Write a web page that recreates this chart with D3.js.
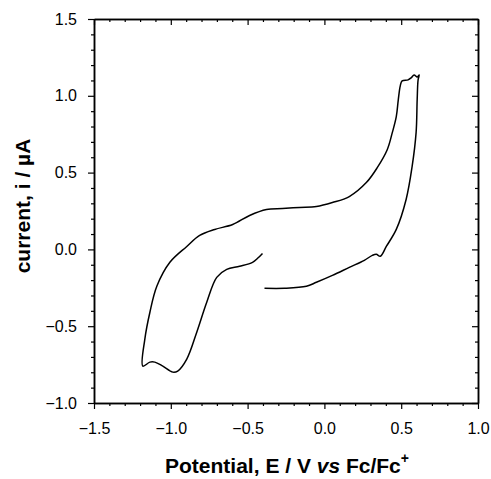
<!DOCTYPE html>
<html>
<head>
<meta charset="utf-8">
<script src="https://cdn.jsdelivr.net/npm/d3@7"></script>
<style>
  body { margin: 0; background: #fff; }
  text { font-family: "Liberation Sans", Arial, sans-serif; }
</style>
</head>
<body>
<div id="chart"></div>
<script>
// cyclic voltammogram (V vs Fc/Fc+, uA)
var potential = [
	-0.390, -0.260, -0.117, -0.052, 0.052, 0.162, 0.260, 0.312, 0.338, 0.364,
	0.403, 0.468, 0.532, 0.571, 0.597, 0.604, 0.610, 0.617, 0.604, 0.584,
	0.565, 0.545, 0.506, 0.494, 0.481, 0.468, 0.442, 0.409, 0.344, 0.273,
	0.162, 0.052, -0.052, -0.162, -0.273, -0.377, -0.487, -0.597, -0.714, -0.812,
	-0.896, -1.006, -1.091, -1.136, -1.169, -1.182, -1.136, -1.104, -1.052, -0.987,
	-0.955, -0.896, -0.831, -0.766, -0.701, -0.636, -0.552, -0.468, -0.435, -0.403
];
var current = [
	-0.253, -0.253, -0.240, -0.214, -0.169, -0.117, -0.071, -0.039, -0.032, -0.045,
	0.019, 0.130, 0.325, 0.539, 0.760, 0.974, 1.104, 1.136, 1.123, 1.136,
	1.117, 1.104, 1.097, 1.065, 0.974, 0.864, 0.760, 0.649, 0.532, 0.435,
	0.344, 0.305, 0.279, 0.273, 0.266, 0.260, 0.221, 0.162, 0.130, 0.091,
	0.019, -0.084, -0.240, -0.409, -0.584, -0.760, -0.734, -0.734, -0.760, -0.799,
	-0.792, -0.714, -0.539, -0.344, -0.182, -0.130, -0.110, -0.084, -0.058, -0.026
];

// tick labels
var xTicks = [-1.5, -1.0, -0.5, 0.0, 0.5, 1.0];
var yTicks = [-1.0, -0.5, 0.0, 0.5, 1.0, 1.5];

var width = 491, height = 479,
	margin = { top: 19, right: 13, bottom: 76, left: 94 };
var chartWidth = width - margin.left - margin.right;
var chartHeight = height - margin.top - margin.bottom;

var svg = d3.select("#chart").append("svg")
	.attr("width", width)
	.attr("height", height);

var g = svg.append("g")
	.attr("transform", "translate(" + [margin.left, margin.top] + ")");

var x = d3.scaleLinear().domain([-1.5, 1.0]).range([0, chartWidth]);
var y = d3.scaleLinear().domain([-1.0, 1.5]).range([chartHeight, 0]);

// minor ticks every 0.1, leaving out the majors
function minors(lo, hi) {
	var out = [];
	for (var i = Math.round(lo * 10); i <= Math.round(hi * 10); i++) {
		if (i % 5 !== 0) out.push(i / 10);
	}
	return out;
}
var xMinor = minors(-1.5, 1.0), yMinor = minors(-1.0, 1.5);

function styleAxis(sel) {
	sel.select(".domain").attr("stroke", "#000").attr("stroke-width", 1.5);
	sel.selectAll(".tick line").attr("stroke", "#000").attr("stroke-width", 1.2);
	sel.selectAll(".tick text").attr("font-size", "16px").attr("fill", "#000");
}

// bottom / left: ticks outward with labels
g.append("g").attr("transform", "translate(0," + chartHeight + ")")
	.call(d3.axisBottom(x).tickValues(xTicks).tickFormat(d3.format(".1f")).tickSizeInner(6).tickSizeOuter(0).tickPadding(14))
	.call(styleAxis);
g.append("g").attr("transform", "translate(0," + chartHeight + ")")
	.call(d3.axisBottom(x).tickValues(xMinor).tickFormat("").tickSizeInner(3).tickSizeOuter(0))
	.call(styleAxis);
g.append("g")
	.call(d3.axisLeft(y).tickValues(yTicks).tickFormat(d3.format(".1f")).tickSizeInner(6).tickSizeOuter(0).tickPadding(11))
	.call(styleAxis);
g.append("g")
	.call(d3.axisLeft(y).tickValues(yMinor).tickFormat("").tickSizeInner(3).tickSizeOuter(0))
	.call(styleAxis);

// top / right: ticks inward, no labels
g.append("g")
	.call(d3.axisTop(x).tickValues(xTicks).tickFormat("").tickSizeInner(-6).tickSizeOuter(0))
	.call(styleAxis);
g.append("g")
	.call(d3.axisTop(x).tickValues(xMinor).tickFormat("").tickSizeInner(-3).tickSizeOuter(0))
	.call(styleAxis);
g.append("g").attr("transform", "translate(" + chartWidth + ",0)")
	.call(d3.axisRight(y).tickValues(yTicks).tickFormat("").tickSizeInner(-6).tickSizeOuter(0))
	.call(styleAxis);
g.append("g").attr("transform", "translate(" + chartWidth + ",0)")
	.call(d3.axisRight(y).tickValues(yMinor).tickFormat("").tickSizeInner(-3).tickSizeOuter(0))
	.call(styleAxis);

// the trace
var pts = potential.map(function(p, i) { return [p, current[i]]; });
var line = d3.line()
	.x(function(d) { return x(d[0]); })
	.y(function(d) { return y(d[1]); })
	.curve(d3.curveCatmullRom.alpha(0.5));

g.append("path")
	.datum(pts)
	.attr("fill", "none")
	.attr("stroke", "#000")
	.attr("stroke-width", 1.5)
	.attr("stroke-linejoin", "round")
	.attr("d", line);

// axis titles
var xt = svg.append("text")
	.attr("x", 287)
	.attr("y", 473)
	.attr("text-anchor", "middle")
	.attr("font-size", "21px")
	.attr("font-weight", "bold");
xt.append("tspan").text("Potential, E / V ");
xt.append("tspan").attr("font-style", "italic").text("vs");
xt.append("tspan").text(" Fc/Fc");
xt.append("tspan").attr("font-size", "14px").attr("dy", -10).text("+");

svg.append("text")
	.attr("transform", "translate(30,206) rotate(-90)")
	.attr("text-anchor", "middle")
	.attr("font-size", "21px")
	.attr("font-weight", "bold")
	.text("current, i / µA");
</script>
</body>
</html>
